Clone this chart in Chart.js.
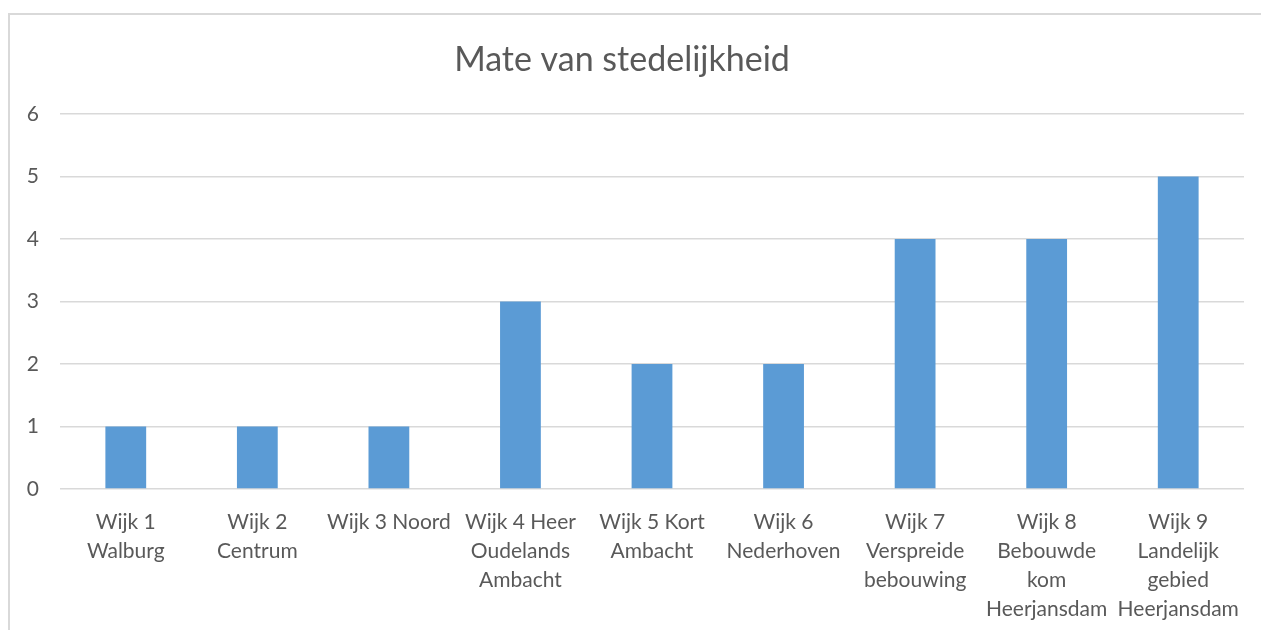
<!DOCTYPE html>
<html>
<head>
<meta charset="utf-8">
<script src="https://cdn.jsdelivr.net/npm/chart.js@4"></script>
<style>
  html, body { margin: 0; padding: 0; background: #fff; }
  #wrap { position: relative; width: 1261px; height: 630px; }
  #frame { position: absolute; left: 8px; top: 13px; width: 1300px; height: 700px;
           border: 2px solid #d9d9d9; box-sizing: border-box; }
  canvas { position: absolute; left: 0; top: 0; }
</style>
</head>
<body>
<div id="wrap">
  <div id="frame"></div>
  <canvas id="miGrafica" width="1261" height="630"></canvas>
</div>
<script>
var categorias = [
  ['Wijk 1', 'Walburg'],
  ['Wijk 2', 'Centrum'],
  ['Wijk 3 Noord'],
  ['Wijk 4 Heer', 'Oudelands', 'Ambacht'],
  ['Wijk 5 Kort', 'Ambacht'],
  ['Wijk 6', 'Nederhoven'],
  ['Wijk 7', 'Verspreide', 'bebouwing'],
  ['Wijk 8', 'Bebouwde', 'kom', 'Heerjansdam'],
  ['Wijk 9', 'Landelijk', 'gebied', 'Heerjansdam']
];
var valores = [1, 1, 1, 3, 2, 2, 4, 4, 5];
var ticksY = [0, 1, 2, 3, 4, 5, 6];

var fuente = 'Lato, "Open Sans", sans-serif';

var ctx = document.getElementById('miGrafica').getContext('2d');
var chart = new Chart(ctx, {
  type: 'bar',
  data: {
    labels: categorias,
    datasets: [{
      label: 'Mate van stedelijkheid',
      backgroundColor: '#5B9BD5',
      borderWidth: 0,
      data: valores,
      categoryPercentage: 1,
      barPercentage: 0.31
    }]
  },
  options: {
    responsive: false,
    animation: false,
    layout: { padding: { left: 0, right: 17, top: 0, bottom: 0 } },
    plugins: {
      legend: { display: false },
      tooltip: { enabled: false },
      title: {
        display: true,
        text: 'Mate van stedelijkheid',
        color: '#595959',
        font: { family: fuente, size: 34, weight: 'normal', lineHeight: 1.2 },
        padding: { top: 40, bottom: 33.2 }
      }
    },
    scales: {
      x: {
        grid: { display: false },
        border: { display: false },
        ticks: {
          color: '#595959',
          font: { family: fuente, size: 21, lineHeight: 1.38 },
          maxRotation: 0,
          autoSkip: false,
          padding: 11
        },
        afterFit: function (scale) { scale.height = 141; }
      },
      y: {
        min: 0,
        max: 6,
        afterBuildTicks: function (scale) {
          scale.ticks = ticksY.map(function (v) { return { value: v }; });
        },
        grid: { color: '#d9d9d9', lineWidth: 1.5, drawTicks: false },
        border: { display: false },
        ticks: {
          color: '#595959',
          font: { family: fuente, size: 21 },
          padding: 21
        },
        afterFit: function (scale) { scale.width = 60; }
      }
    }
  }
});
</script>
</body>
</html>
